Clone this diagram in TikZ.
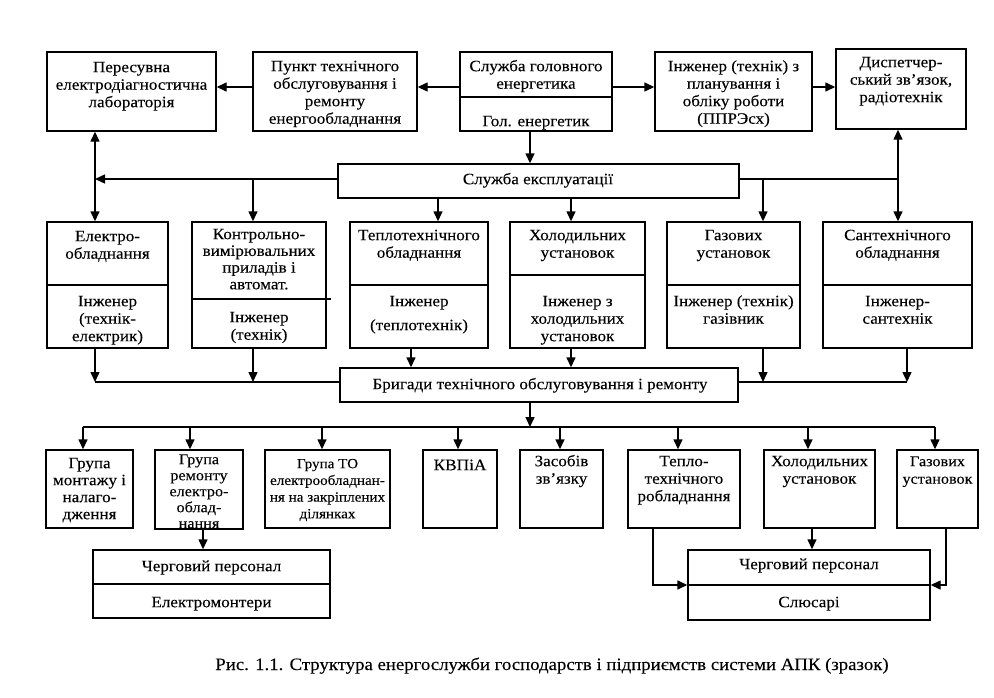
\documentclass[tikz,border=0pt]{standalone}
\usepackage{fontspec}
\setmainfont[FakeStretch=1.08, FakeBold=0.12]{Liberation Serif}
\usetikzlibrary{arrows.meta}
\newcommand\fs{\fontsize{15.8}{17.5}\selectfont}
\newcommand\bx[5]{\node[box, minimum width={(#4-#2)*1pt}, minimum height={(#5-#3)*1pt}] (#1) at ({(#2+#4)/2},{(#3+#5)/2}) {};}
\newcommand\tx[5][]{\node[txt,#1] (#2) at (#3,{#4}) {\strut #5};}
\tikzset{
  box/.style={draw, line width=1.4pt, inner sep=0pt, rectangle},
  txt/.style={inner sep=0pt, align=center, anchor=north, font=\fs, yshift=12.25pt},
  ln/.style={line width=1.4pt},
  arr/.style={line width=1.4pt, -{Triangle[length=10pt,width=9pt]}},
  arrb/.style={line width=1.4pt, {Triangle[length=10pt,width=9pt]}-{Triangle[length=10pt,width=9pt]}},
}
\begin{document}
\begin{tikzpicture}[x=1pt,y=-1pt]
\useasboundingbox (0,0) rectangle (994,697);
% top row
\bx{per}{47}{52}{216}{131}
\bx{pn}{253}{52}{417}{131}
\bx{gs}{460}{52}{612}{131}
\bx{inz}{655}{52}{812}{131}
\bx{dsp}{836}{49}{966}{129}
\draw[ln] (gs.west |- 0,97) -- (gs.east |- 0,97);
\tx{perT}{131.5}{72}{Пересувна\\електродіагностична\\лабораторія}
\tx{pnT}{335}{71}{Пункт технічного\\обслуговування і\\ремонту\\енергообладнання}
\tx{gsT}{536}{71}{Служба головного\\енергетика}
\tx{gsB}{536}{126}{Гол. енергетик}
\tx{inzT}{733.5}{71}{Інженер (технік) з\\планування і\\обліку роботи\\(ППРЭсх)}
\tx{dspT}{901}{67}{Диспетчер-\\ський зв’язок,\\радіотехнік}
% service
\bx{se}{338}{164}{739}{198}
\tx{seT}{538}{184}{Служба експлуатації}
% middle row
\bx{el}{47}{222}{168}{348}
\bx{kv}{192}{222}{326}{348}
\bx{tp}{350}{222}{488}{348}
\bx{hl}{510}{222}{645}{348}
\bx{gz}{667}{222}{800}{348}
\bx{st}{823}{222}{972}{348}
\draw[ln] (el.west |- 0,285) -- (el.east |- 0,285);
\draw[ln] (kv.west |- 0,299) -- (331,299);
\draw[ln] (tp.west |- 0,285) -- (tp.east |- 0,285);
\draw[ln] (hl.west |- 0,275) -- (hl.east |- 0,275);
\draw[ln] (gz.west |- 0,285) -- (gz.east |- 0,285);
\draw[ln] (st.west |- 0,285) -- (st.east |- 0,285);
\tx{elT}{107.5}{241}{Електро-\\обладнання}
\tx{elB}{107.5}{306}{Інженер\\(технік-\\електрик)}
\tx[font=\fontsize{15.8}{16.7}\selectfont, yshift=-0.56pt]{kvT}{259}{239}{Контрольно-\\вимірювальних\\приладів і\\автомат.}
\tx{kvB}{259}{322}{Інженер\\(технік)}
\tx{tpT}{419}{240}{Теплотехнічного\\обладнання}
\tx{tpB}{419}{306}{Інженер}
\tx{tpC}{419}{330}{(теплотехнік)}
\tx{hlT}{577.5}{240}{Холодильних\\установок}
\tx{hlB}{577.5}{306}{Інженер з\\холодильних\\установок}
\tx{gzT}{733.5}{240}{Газових\\установок}
\tx{gzB}{733.5}{306}{Інженер (технік)\\газівник}
\tx{stT}{897.5}{240}{Сантехнічного\\обладнання}
\tx{stB}{897.5}{306}{Інженер-\\сантехнік}
% brigades
\bx{br}{340}{368}{738}{402}
\tx{brT}{540}{389}{Бригади технічного обслуговування і ремонту}
% bottom row
\bx{gm}{46}{450}{133}{528}
\bx{gr}{155}{450}{243}{529}
\bx{gt}{265}{450}{390}{528}
\bx{kp}{423}{450}{497}{528}
\bx{zs}{520}{450}{603}{528}
\bx{tb}{628}{450}{740}{528}
\bx{hb}{764}{450}{875}{528}
\bx{gb}{897}{450}{978}{528}
\tx[font=\fontsize{15.8}{17}\selectfont, yshift=-0.35pt]{gmT}{89.5}{468}{Група\\монтажу і\\налаго-\\дження}
\tx[font=\fontsize{15}{16}\selectfont, yshift=-1.05pt]{grT}{199}{464}{Група\\ремонту\\електро-\\облад-\\нання}
\tx[font=\fontsize{14}{16.7}\selectfont, yshift=-0.56pt]{gtT}{327.5}{468}{Група ТО\\електрообладнан-\\ня на закріплених\\ділянках}
\tx[font=\fontsize{16}{17.5}\selectfont]{kpT}{460}{470}{КВПіА}
\tx{zsT}{561.5}{466}{Засобів\\зв’язку}
\tx{tbT}{684}{466}{Тепло-\\технічного\\робладнання}
\tx{hbT}{819.5}{466}{Холодильних\\установок}
\tx[font=\fontsize{15}{17.5}\selectfont]{gbT}{937.5}{466}{Газових\\установок}
% duty staff
\bx{cl}{93}{550}{330}{618}
\bx{cr}{688}{550}{930}{620}
\draw[ln] (cl.west |- 0,584) -- (cl.east |- 0,584);
\draw[ln] (cr.west |- 0,585) -- (cr.east |- 0,585);
\tx{clT}{211.5}{571}{Черговий персонал}
\tx{clB}{211.5}{607}{Електромонтери}
\tx{crT}{809}{569}{Черговий персонал}
\tx{crB}{809}{607}{Слюсарі}
% caption
\node[inner sep=0pt, anchor=base, font=\fontsize{17.4}{20}\selectfont] (cap) at (552,670) {Рис. 1.1. Структура енергослужби господарств і підприємств системи АПК (зразок)};
% column / row coordinates
\coordinate (cA) at (95,0);
\coordinate (cB) at (253,0);
\coordinate (cG) at (530,0);
\coordinate (cT) at (438,0);
\coordinate (cH) at (571,0);
\coordinate (cGz) at (763,0);
\coordinate (cS) at (898,0);
\coordinate (cT2) at (411,0);
\coordinate (cS2) at (907,0);
\coordinate (cBr) at (530,0);
\coordinate (rowB) at (0,427);
\coordinate (d1) at (83,0);
\coordinate (d2) at (190,0);
\coordinate (d3) at (322,0);
\coordinate (d4) at (458,0);
\coordinate (d5) at (560,0);
\coordinate (d6) at (678,0);
\coordinate (d7) at (808,0);
\coordinate (d8) at (935,0);
\coordinate (e1) at (203,0);
\coordinate (e2) at (653,0);
\coordinate (e3) at (812,0);
\coordinate (e4) at (946,0);
% top connectors
\coordinate (gsW) at ([yshift=4.5pt]gs.west);
\coordinate (pnW) at ([yshift=4.5pt]pn.west);
\coordinate (gsE) at ([yshift=4.5pt]gs.east);
\coordinate (inzE) at ([yshift=4.5pt]inz.east);
\draw[arr] (gsW) -- (gsW -| pn.east);
\draw[arr] (pnW) -- (pnW -| per.east);
\draw[arr] (gsE) -- (gsE -| inz.west);
\draw[arr] (inzE) -- (inzE -| dsp.west);
\draw[arr] (gs.south -| cG) -- (se.north -| cG);
% service connectors
\coordinate (seW) at ([yshift=2pt]se.west);
\coordinate (seE) at ([yshift=2pt]se.east);
\draw[arr] (seW) -- (seW -| cA);
\draw[arr] (seW -| cB) -- (kv.north -| cB);
\draw[arrb] (per.south -| cA) -- (el.north -| cA);
\draw[ln] (seE) -- (seE -| cS);
\draw[arr] (seE -| cGz) -- (gz.north -| cGz);
\draw[arrb] (dsp.south -| cS) -- (st.north -| cS);
\draw[arr] (se.south -| cT) -- (tp.north -| cT);
\draw[arr] (se.south -| cH) -- (hl.north -| cH);
% middle to brigades
\coordinate (bm) at ([yshift=3pt]br.west);
\coordinate (bmE) at ([yshift=3pt]br.east);
\draw[ln] (bm) -- (bm -| cA);
\draw[arr] (el.south -| cA) -- (bm -| cA);
\draw[arr] (kv.south -| cB) -- (bm -| cB);
\draw[arr] (tp.south -| cT2) -- (br.north -| cT2);
\draw[arr] (hl.south -| cH) -- (br.north -| cH);
\draw[ln] (bmE) -- (bmE -| cS2);
\draw[arr] (gz.south -| cGz) -- (bmE -| cGz);
\draw[arr] (st.south -| cS2) -- (bmE -| cS2);
% brigades to groups
\draw[arr] (br.south -| cBr) -- (cBr |- rowB);
\draw[ln] (d1 |- rowB) -- (d8 |- rowB);
\draw[arr] (d1 |- rowB) -- (gm.north -| d1);
\draw[arr] (d2 |- rowB) -- (gr.north -| d2);
\draw[arr] (d3 |- rowB) -- (gt.north -| d3);
\draw[arr] (d4 |- rowB) -- (kp.north -| d4);
\draw[arr] (d5 |- rowB) -- (zs.north -| d5);
\draw[arr] (d6 |- rowB) -- (tb.north -| d6);
\draw[arr] (d7 |- rowB) -- (hb.north -| d7);
\draw[arr] (d8 |- rowB) -- (gb.north -| d8);
% groups to duty staff
\draw[arr] (gr.south -| e1) -- (cl.north -| e1);
\draw[arr] (tb.south -| e2) |- (cr.west);
\draw[arr] (hb.south -| e3) -- (cr.north -| e3);
\draw[arr] (gb.south -| e4) |- (cr.east);
\end{tikzpicture}
\end{document}
